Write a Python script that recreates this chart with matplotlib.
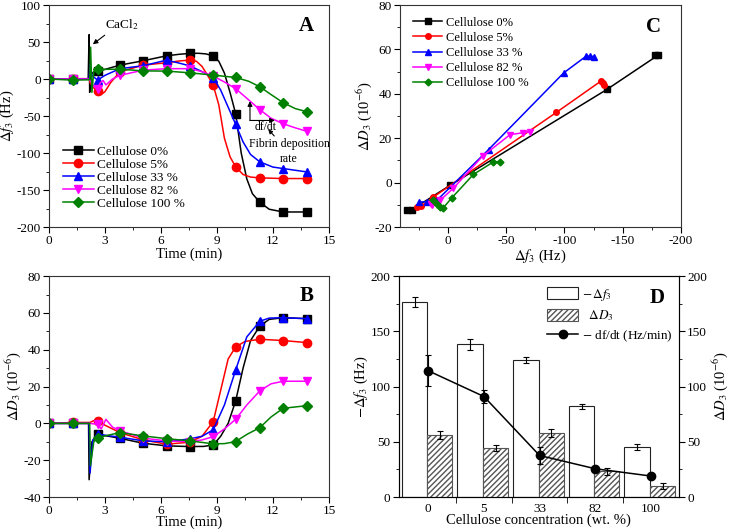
import numpy as np
import matplotlib.pyplot as plt
from matplotlib.lines import Line2D
from matplotlib.patches import Patch
from matplotlib.ticker import MultipleLocator

plt.rcParams['font.family'] = ['Liberation Serif', 'DejaVu Serif']
plt.rcParams['mathtext.fontset'] = 'stix'
plt.rcParams['axes.unicode_minus'] = False
plt.rcParams['xtick.direction'] = 'out'
plt.rcParams['ytick.direction'] = 'out'

# ---- series info ----
names   = ['Cellulose 0%', 'Cellulose 5%', 'Cellulose 33 %', 'Cellulose 82 %', 'Cellulose 100 %']
colors  = ['#000000', '#ff0000', '#0000ff', '#ff00ff', '#008000']
markers = ['s', 'o', '^', 'v', 'D']

# marker times (min)
t_mark = [0, 1.3, 2.6, 3.8, 5.05, 6.3, 7.55, 8.8, 10.0, 11.3, 12.55, 13.8]

# ---- Panel A: delta f3 (Hz), marker values ----
fA_mark = [
    [0, 0, 11, 18.8, 24.7, 31.4, 34.6, 31.4, -46.6, -166.6, -179.7, -179.7],
    [0, 0.5, -16, 9.8, 18.8, 22, 25.5, -8.3, -118.7, -133.6, -134.5, -134.5],
    [0, 0, -1.5, 14, 18, 25.5, 17.8, 1.7, -61, -112, -121, -125.5],
    [0, 0, -13, 5, 12, 14, 14, 4, -13, -41.5, -60.5, -70.5],
    [0, -1.5, 13, 13.3, 11, 10.7, 8.4, 5.3, 2.1, -10.5, -32, -44],
]
# curves
tA_line = [
    [0, 1.3, 2.1, 2.15, 2.18, 2.22, 2.4, 2.6, 3.0, 3.8, 5.05, 6.3, 7.0, 7.55, 8.0, 8.4, 8.8, 9.1, 9.4, 9.7, 10.0, 10.3, 10.6, 10.9, 11.3, 11.8, 12.55, 13.8],
    [0, 1.3, 2.15, 2.2, 2.4, 2.6, 2.8, 3.0, 3.3, 3.8, 5.05, 6.3, 7.0, 7.55, 7.9, 8.2, 8.5, 8.8, 9.1, 9.4, 9.7, 10.0, 10.4, 10.8, 11.3, 12.55, 13.8],
    [0, 2.15, 2.2, 2.3, 2.6, 3.0, 3.8, 5.05, 6.3, 6.9, 7.55, 8.2, 8.8, 9.2, 9.6, 10.0, 10.4, 10.8, 11.3, 12.0, 12.55, 13.8],
    [0, 2.15, 2.4, 2.6, 2.75, 2.9, 3.05, 3.4, 3.8, 5.05, 6.3, 7.55, 8.2, 8.8, 9.4, 10.0, 10.6, 11.3, 11.9, 12.55, 13.2, 13.8],
    [0, 1.3, 2.18, 2.23, 2.3, 2.4, 2.6, 3.8, 5.05, 6.3, 7.55, 8.8, 10.0, 10.7, 11.3, 11.9, 12.55, 13.2, 13.8],
]
fA_line = [
    [0, 0, 0, 60, -18, 5, 10, 11, 13, 18.8, 24.7, 31.4, 33.5, 34.6, 34.8, 34, 31.4, 24, 8, -18, -46.6, -100, -135, -155, -166.6, -176, -179.7, -179.7],
    [0, 0.5, 0.5, -5, -12, -16, -21, -17, -5, 9.8, 18.8, 22, 24.5, 25.5, 24, 17, 5, -8.3, -35, -80, -105, -118.7, -129, -132.5, -133.6, -134.5, -134.5],
    [0, 0, 20, 5, -1.5, 5, 14, 18, 25.5, 22, 17.8, 10, 1.7, -15, -38, -61, -85, -102, -112, -119, -121, -125.5],
    [0, 0, -10, -13, -5, -2, -8, 0, 5, 12, 14, 14, 10, 4, -4, -13, -26, -41.5, -53, -60.5, -66, -70.5],
    [0, -1.5, -1, 43, -18, 10, 13, 13.3, 11, 10.7, 8.4, 5.3, 2.1, -3, -10.5, -21, -32, -40, -44],
]

# ---- Panel B: delta D3 (1e-6) ----
DB_mark = [
    [0, 0, -6, -8.1, -10.8, -12.2, -12.6, -11.7, 12.1, 52.9, 57.4, 56.9],
    [0, 0.5, 1.5, -5, -9, -11.3, -10.2, 1, 41.5, 45.7, 45, 43.9],
    [0, 0, -5.9, -7.5, -9.5, -10, -8.4, -3.5, 28.9, 55.5, 57.4, 56.9],
    [0, 0, -0.5, -4, -8, -9.5, -10, -7.2, 2.2, 17.7, 22.9, 22.9],
    [0, 0, -7.7, -5, -6.8, -8.3, -9.5, -11.1, -9.9, -2.3, 8.2, 9.6],
]
tB_line = [
    [0, 1.3, 2.12, 2.15, 2.3, 2.6, 3.2, 3.8, 5.05, 6.3, 7.55, 8.3, 8.8, 9.2, 9.6, 10.0, 10.4, 10.8, 11.3, 11.8, 12.55, 13.8],
    [0, 1.3, 2.2, 2.4, 2.6, 3.0, 3.8, 5.05, 6.3, 7.55, 8.2, 8.8, 9.2, 9.6, 10.0, 10.5, 11.3, 12.55, 13.8],
    [0, 2.15, 2.2, 2.35, 2.6, 3.8, 5.05, 6.3, 7.55, 8.2, 8.8, 9.4, 10.0, 10.6, 11.3, 11.8, 12.55, 13.8],
    [0, 2.2, 2.6, 2.8, 3.05, 3.4, 3.8, 5.05, 6.3, 7.55, 8.2, 8.8, 9.4, 10.0, 10.6, 11.3, 11.9, 12.55, 13.8],
    [0, 1.3, 2.18, 2.22, 2.4, 2.6, 3.8, 5.05, 6.3, 7.55, 8.8, 9.4, 10.0, 10.6, 11.3, 11.9, 12.55, 13.8],
]
DB_line = [
    [0, 0, 0, -30.6, -10, -6, -7, -8.1, -10.8, -12.2, -12.6, -12.5, -11.7, -7, 0, 12.1, 30, 45, 52.9, 56.5, 57.4, 56.9],
    [0, 0.5, 0.5, 1.5, 1.5, -1, -5, -9, -11.3, -10.2, -7, 1, 18, 35, 41.5, 44.5, 45.7, 45, 43.9],
    [0, 0, -27, -9, -5.9, -7.5, -9.5, -10, -8.4, -7, -3.5, 10, 28.9, 47, 55.5, 57.2, 57.4, 56.9],
    [0, 0, -0.5, -3, 2.2, -2, -4, -8, -9.5, -10, -9, -7.2, -3, 2.2, 10, 17.7, 21.5, 22.9, 22.9],
    [0, 0, 0, -23, -10, -7.7, -5, -6.8, -8.3, -9.5, -11.1, -11, -9.9, -6, -2.3, 3.5, 8.2, 9.6],
]

# ---- Panel C: delta D3 vs delta f3 ----
fC = [
    [34.7, 30.9, -2, -136.5, -180, -178],
    [26, 23, 12.4, -93, -131.5, -133.5, -134],
    [24.4, 18, 9.4, -35, -99.3, -118.7, -122.2, -125.6],
    [14.6, 13.7, 6.6, -4.8, -30, -53.4, -64.9, -70.6],
    [12.4, 9, 6.6, 3.8, -3.4, -22, -39, -45],
]
DC = [
    [-12.5, -12.2, -1.2, 42, 57.3, 57.3],
    [-11, -10.7, -6.5, 31.6, 45.8, 45, 44],
    [-8.7, -8.7, -8, 14.9, 49.4, 57, 57, 56.7],
    [-9.5, -10.2, -8, -2.5, 12, 21.6, 22.5, 23],
    [-8, -9.5, -11, -11.3, -6.9, 3.7, 9.3, 9.5],
]

# ---- Panel D: summary ----
conc      = ['0', '5', '33', '82', '100']
neg_df    = [176.2, 138.3, 123.9, 82.1, 45.1]
neg_df_er = [4.5, 5, 3, 2, 2.5]
dD        = [56.2, 44.2, 58, 23.2, 9.9]
dD_er     = [3.5, 2.5, 4, 3, 2.5]
rate      = [114.3, 91, 37.6, 25.6, 19]
rate_er   = [14, 6, 8, 0, 0]

fig = plt.figure(figsize=(7.29, 5.31), dpi=100)
axA = fig.add_axes([0.0672, 0.5725, 0.384, 0.418])
axC = fig.add_axes([0.5487, 0.5725, 0.3855, 0.418])
axB = fig.add_axes([0.0672, 0.064, 0.384, 0.416])
axD = fig.add_axes([0.547, 0.064, 0.384, 0.416])

tick_fs = 9.5
lab_fs = 10.5

def style(ax):
    ax.tick_params(which='major', length=4, pad=2, labelsize=tick_fs)
    ax.tick_params(which='minor', length=2)
    for s in ax.spines.values():
        s.set_color('#333333')

# ---- A ----
for i in range(5):
    axA.plot(tA_line[i], fA_line[i], '-', color=colors[i], lw=1.1)
    ms = 5 if markers[i] == 'D' else 6
    axA.plot(t_mark, fA_mark[i], markers[i], color=colors[i], ms=ms, ls='none')
handles = [Line2D([], [], color=c, marker=m, ms=(5 if m == 'D' else 6), lw=1.1)
           for c, m in zip(colors, markers)]
axA.legend(handles, names, loc='upper left', bbox_to_anchor=(0.03, 0.39),
           frameon=False, fontsize=9.5, handlelength=2.4, labelspacing=0.05,
           handletextpad=0.2, borderaxespad=0)
axA.set_xlim(0, 15)
axA.set_ylim(-200, 100)
axA.xaxis.set_major_locator(MultipleLocator(3))
axA.xaxis.set_minor_locator(MultipleLocator(1.5))
axA.yaxis.set_major_locator(MultipleLocator(50))
axA.yaxis.set_minor_locator(MultipleLocator(25))
axA.set_xlabel('Time (min)', fontsize=lab_fs, labelpad=0)
axA.set_ylabel(r'$\Delta f_3$ (Hz)', fontsize=lab_fs, labelpad=0)
axA.text(13.8, 72, 'A', fontsize=15, fontweight='bold', ha='center', va='center')
axA.annotate('CaCl$_2$', xy=(2.35, 47), xytext=(3.0, 73), fontsize=9.5,
             ha='left', va='center',
             arrowprops=dict(arrowstyle='-|>', color='k', lw=0.8, mutation_scale=7,
                             relpos=(0.1, 0.0), shrinkA=0, shrinkB=0))
axA.annotate('', xy=(10.77, -30), xytext=(10.77, -56),
             arrowprops=dict(arrowstyle='-|>', color='k', lw=0.8, mutation_scale=7,
                             shrinkA=0, shrinkB=0))
axA.annotate('', xy=(12.1, -56), xytext=(10.77, -56),
             arrowprops=dict(arrowstyle='-|>', color='k', lw=0.8, mutation_scale=7,
                             shrinkA=0, shrinkB=0))
axA.text(11.6, -65, 'df/dt', fontsize=8.5, ha='center', va='center')
axA.annotate('', xy=(11.75, -68), xytext=(12.07, -77),
             arrowprops=dict(arrowstyle='-|>', color='k', lw=0.8, mutation_scale=6,
                             shrinkA=0, shrinkB=0))
axA.text(12.87, -98, 'Fibrin deposition\nrate', fontsize=8.5, ha='center', va='center',
         linespacing=1.3)
style(axA)

# ---- B ----
for i in range(5):
    axB.plot(tB_line[i], DB_line[i], '-', color=colors[i], lw=1.1)
    ms = 5 if markers[i] == 'D' else 6
    axB.plot(t_mark, DB_mark[i], markers[i], color=colors[i], ms=ms, ls='none')
axB.set_xlim(0, 15)
axB.set_ylim(-40, 80)
axB.xaxis.set_major_locator(MultipleLocator(3))
axB.xaxis.set_minor_locator(MultipleLocator(1.5))
axB.yaxis.set_major_locator(MultipleLocator(20))
axB.yaxis.set_minor_locator(MultipleLocator(10))
axB.set_xlabel('Time (min)', fontsize=lab_fs, labelpad=-1)
axB.set_ylabel(r'$\Delta D_3$ (10$^{-6}$)', fontsize=lab_fs, labelpad=0)
axB.text(13.8, 69, 'B', fontsize=15, fontweight='bold', ha='center', va='center')
style(axB)

# ---- C ----
for i in range(5):
    ms = 3.5 if markers[i] == 'D' else 4
    axC.plot(fC[i], DC[i], '-', color=colors[i], marker=markers[i], ms=ms, lw=1.1,
             label=names[i])
axC.legend(loc='upper left', bbox_to_anchor=(0.03, 0.97), frameon=False, fontsize=9,
           handlelength=2.3, labelspacing=0.25, handletextpad=0.3, borderaxespad=0)
axC.set_xlim(41, -200)
axC.set_ylim(-20, 80)
axC.xaxis.set_major_locator(MultipleLocator(50))
axC.xaxis.set_minor_locator(MultipleLocator(25))
axC.yaxis.set_major_locator(MultipleLocator(20))
axC.yaxis.set_minor_locator(MultipleLocator(10))
axC.set_xlabel(r'$\Delta f_3$ (Hz)', fontsize=lab_fs, labelpad=0)
axC.set_ylabel(r'$\Delta D_3$ (10$^{-6}$)', fontsize=lab_fs, labelpad=0)
axC.text(-176, 70, 'C', fontsize=15, fontweight='bold', ha='center', va='center')
style(axC)

# ---- D ----
x = np.arange(1, 6)
axD2 = axD.twinx()
axD.bar(x - 0.245, neg_df, width=0.46, color='white', edgecolor='#222222', lw=0.8,
        yerr=neg_df_er, capsize=2.5, error_kw=dict(lw=0.8, capthick=0.8))
axD2.bar(x + 0.21, dD, width=0.45, color='white', edgecolor='#555555', lw=0.8,
         hatch='//////', yerr=dD_er, capsize=2.5, error_kw=dict(lw=0.8, capthick=0.8))
axD2.errorbar(x, rate, yerr=rate_er, color='k', marker='o', ms=6, lw=1.1,
              capsize=2.5, elinewidth=0.8, capthick=0.8)
axD.set_xlim(0.47, 5.5)
axD.set_ylim(0, 200)
axD2.set_ylim(0, 200)
axD.set_xticks(x)
axD.set_xticklabels(conc)
axD.set_xticks(x[:-1] + 0.5, minor=True)
for a in (axD, axD2):
    a.yaxis.set_major_locator(MultipleLocator(50))
    a.yaxis.set_minor_locator(MultipleLocator(25))
axD.set_xlabel('Cellulose concentration (wt. %)', fontsize=lab_fs, labelpad=-1)
axD.set_ylabel(r'$-\Delta f_3$ (Hz)', fontsize=lab_fs, labelpad=0)
axD2.set_ylabel(r'$\Delta D_3$ (10$^{-6}$)', fontsize=lab_fs, labelpad=2)
axD2.tick_params(which='major', length=4, pad=2, labelsize=tick_fs)
axD2.tick_params(which='minor', length=2)
axD.text(5.12, 180, 'D', fontsize=15, fontweight='bold', ha='center', va='center')
hD = [Patch(facecolor='white', edgecolor='#222222', lw=0.8),
      Patch(facecolor='white', edgecolor='#555555', lw=0.8, hatch='//////'),
      Line2D([], [], color='k', marker='o', ms=6, lw=1.1)]
axD2.legend(hD, [r'$-\,\Delta f_3$', r'  $\Delta D_3$', r'$-$ df/dt (Hz/min)'],
            loc='upper left', bbox_to_anchor=(0.51, 0.975), frameon=False,
            fontsize=9.5, handlelength=2.4, handleheight=1.0, labelspacing=0.4,
            handletextpad=0.3, borderaxespad=0)
style(axD)
axD.tick_params(axis='x', which='major', length=0, pad=4)
axD.tick_params(axis='x', which='minor', length=4)

fig.savefig('out.png', dpi=100)
